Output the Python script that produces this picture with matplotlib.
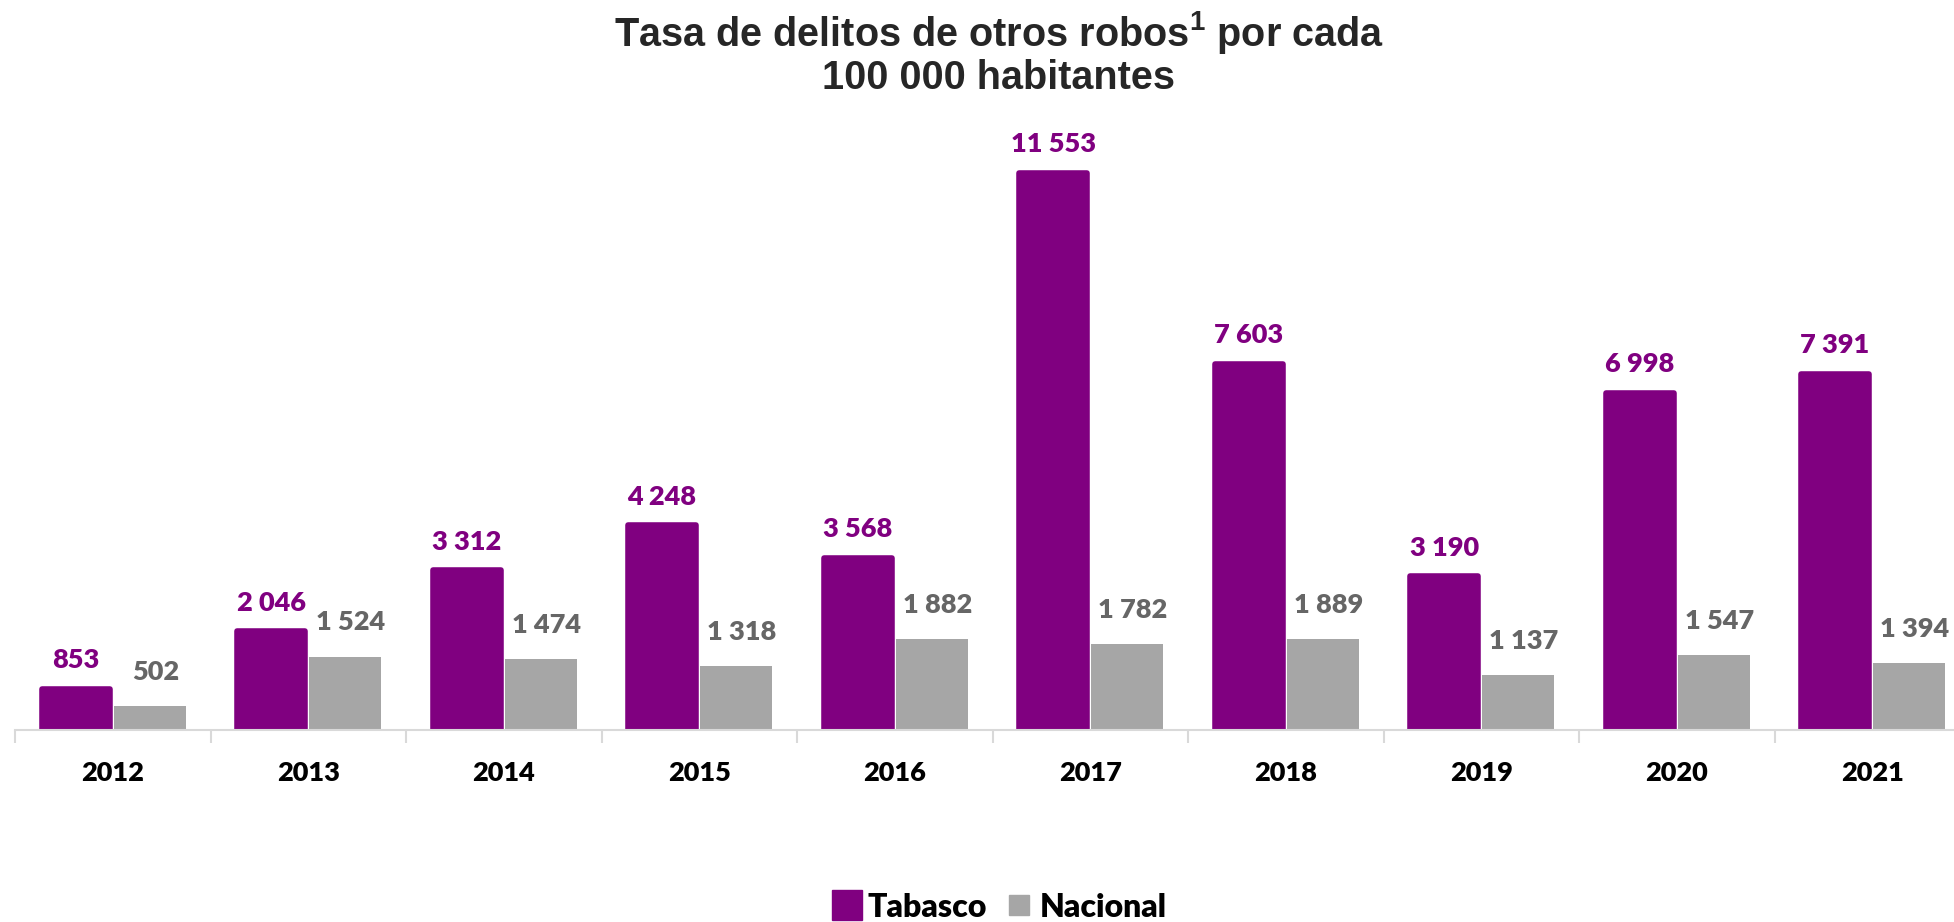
import matplotlib
matplotlib.use("Agg")
import matplotlib.pyplot as plt
from matplotlib.lines import Line2D
import numpy as np

# Data
years = ["2012", "2013", "2014", "2015", "2016", "2017", "2018", "2019", "2020", "2021"]
tabasco = [853, 2046, 3312, 4248, 3568, 11553, 7603, 3190, 6998, 7391]
nacional = [502, 1524, 1474, 1318, 1882, 1782, 1889, 1137, 1547, 1394]

purple = "#800080"
gray = "#A6A6A6"
gray_txt = "#666666"

plt.rcParams["mathtext.fontset"] = "custom"
plt.rcParams["mathtext.rm"] = "Liberation Sans"

W, H = 1954, 922
fig = plt.figure(figsize=(W / 100, H / 100), dpi=100)
ax = fig.add_axes([15 / W, 1 - 730 / H, 1955 / W, 602.5 / H])

x = np.arange(len(years))
bw = 0.368
off = 0.19

# purple bars with a thick round-joined edge to get rounded top corners
ax.bar(x - off, tabasco, width=bw - 0.02, color=purple, edgecolor=purple,
       linewidth=4, joinstyle="round", zorder=2)
ax.bar(x + off, nacional, width=bw, color=gray, linewidth=0, zorder=2)

def fmt(v):
    return f"{v:,}".replace(",", " ")

for xi, v in zip(x, tabasco):
    ax.annotate(fmt(v), (xi - off, v), xytext=(0, 12), textcoords="offset points",
                ha="center", va="bottom", color=purple, fontsize=19.5,
                fontweight="heavy", family="Lato")
for xi, v in zip(x, nacional):
    ax.annotate(fmt(v), (xi + off, v), xytext=(4, 16), textcoords="offset points",
                ha="center", va="bottom", color=gray_txt, fontsize=19.5,
                fontweight="heavy", family="Lato")

ax.set_xlim(-0.5, len(years) - 0.5)
ax.set_ylim(0, 12500)

for s in ["top", "right", "left"]:
    ax.spines[s].set_visible(False)
ax.spines["bottom"].set_color("#D9D9D9")
ax.spines["bottom"].set_linewidth(1.5)
ax.set_yticks([])

ax.set_xticks(x)
ax.set_xticklabels(years, fontsize=19.5, fontweight="heavy", family="Lato", color="black")
ax.tick_params(axis="x", which="major", length=0, pad=22)
ax.set_xticks(np.arange(len(years) + 1) - 0.5, minor=True)
ax.tick_params(axis="x", which="minor", length=9, width=1.5, color="#D9D9D9")

# title
fig.text(0.511, 1 - 32 / H, r"Tasa de delitos de otros robos$^{\mathregular{1}}$ por cada",
         ha="center", va="center", fontsize=28.5, fontweight="bold",
         family="Liberation Sans", color="#262626")
fig.text(0.511, 1 - 78 / H, "100 000 habitantes",
         ha="center", va="center", fontsize=28.5, fontweight="bold",
         family="Liberation Sans", color="#262626")

# legend
handles = [
    Line2D([], [], marker="s", linestyle="", markersize=21, color=purple),
    Line2D([], [], marker="s", linestyle="", markersize=14, color=gray),
]
fig.legend(handles, ["Tabasco", "Nacional"], loc="center",
           bbox_to_anchor=(0.511, 1 - 907 / H), ncol=2, frameon=False,
           prop={"family": "Lato", "weight": "heavy", "size": 23},
           handlelength=1.0, handletextpad=0.15, columnspacing=0.5)

fig.savefig("out.png", dpi=100)
